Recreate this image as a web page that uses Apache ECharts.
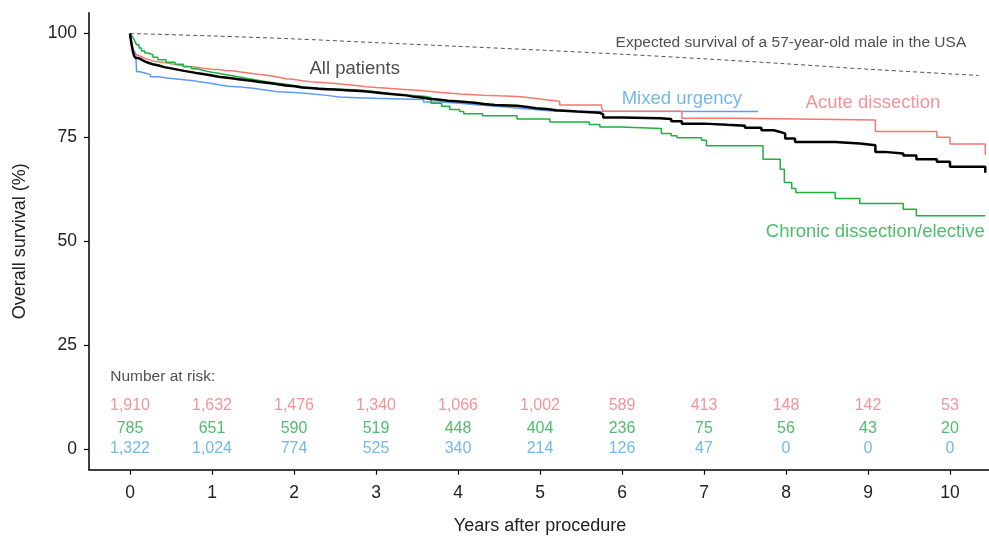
<!DOCTYPE html>
<html>
<head>
<meta charset="utf-8">
<script src="https://cdn.jsdelivr.net/npm/echarts@6/dist/echarts.min.js"></script>
<style>
html,body{margin:0;padding:0;background:#fff;overflow:hidden;}
#chart{width:989px;height:536px;}
</style>
</head>
<body>
<div id="chart"></div>
<script>
// ---- data ----
var yearTicks = [0,1,2,3,4,5,6,7,8,9,10];
var survivalTicks = [0,25,50,75,100];

var allPatients = [[0,100],[0.01,98.5],[0.02,97.3],[0.03,96.2],[0.04,95.3],[0.05,94.6],[0.07,94.1],[0.1,93.7],[0.14,93.3],[0.18,92.9],[0.23,92.6],[0.28,92.3],[0.35,91.9],[0.42,91.6],[0.5,91.3],[0.58,91.0],[0.66,90.7],[0.75,90.4],[0.83,90.2],[0.91,89.9],[1.0,89.6],[1.08,89.4],[1.16,89.2],[1.24,89.0],[1.32,88.8],[1.4,88.6],[1.48,88.4],[1.56,88.2],[1.64,88.0],[1.72,87.8],[1.8,87.5],[1.9,87.3],[2.01,87.0],[2.1,86.85],[2.2,86.7],[2.3,86.6],[2.4,86.5],[2.5,86.4],[2.6,86.3],[2.68,86.2],[2.76,86.1],[2.85,85.9],[2.95,85.7],[3.05,85.5],[3.15,85.3],[3.25,85.1],[3.37,84.8],[3.45,84.6],[3.55,84.3],[3.65,84.1],[3.75,83.8],[3.88,83.6],[4.02,83.3],[4.2,83.0],[4.32,82.8],[4.45,82.6],[4.72,82.3],[4.85,82.0],[4.95,81.8],[5.08,81.5],[5.2,81.2],[5.45,80.9],[5.73,80.5],[5.77,79.8],[6.0,79.6],[6.46,79.4],[6.6,78.9],[6.73,78.3],[7.0,78.0],[7.28,77.8],[7.5,77.3],[7.7,76.7],[7.85,76.3],[7.93,75.9],[7.99,74.7],[8.11,73.9],[8.6,73.5],[8.9,73.1],[9.09,71.5],[9.2,71.1],[9.43,70.6],[9.59,69.7],[9.84,69.1],[10.0,67.9],[10.43,66.5]];
var acuteDissection = [[0,100],[0.01,98.8],[0.02,97.7],[0.03,96.7],[0.04,95.9],[0.05,95.3],[0.07,94.8],[0.1,94.4],[0.14,94.0],[0.18,93.7],[0.23,93.4],[0.28,93.2],[0.34,93.0],[0.42,92.7],[0.5,92.4],[0.58,92.2],[0.66,92.0],[0.75,91.8],[0.83,91.6],[0.91,91.4],[1.0,91.3],[1.08,91.1],[1.16,91.0],[1.25,90.7],[1.35,90.5],[1.45,90.2],[1.56,90.0],[1.65,89.7],[1.75,89.4],[1.83,89.1],[1.9,88.9],[2.01,88.6],[2.1,88.4],[2.2,88.2],[2.35,87.95],[2.5,87.7],[2.63,87.45],[2.76,87.2],[2.88,87.0],[3.0,86.8],[3.15,86.6],[3.3,86.4],[3.45,86.2],[3.58,86.0],[3.7,85.8],[3.8,85.6],[3.92,85.45],[4.02,85.3],[4.15,85.15],[4.3,85.0],[4.5,84.85],[4.72,84.7],[4.8,84.45],[4.9,84.2],[5.0,83.95],[5.12,83.7],[5.24,82.8],[5.75,82.3],[5.77,81.3],[6.73,79.6],[7.44,79.2],[9.09,76.4],[9.84,75.0],[10.0,73.4],[10.43,70.8]];
var mixedUrgency = [[0,100],[0.01,98.7],[0.02,97.6],[0.03,96.7],[0.05,95.8],[0.07,95.2],[0.08,90.8],[0.12,90.5],[0.18,90.1],[0.25,89.6],[0.35,89.3],[0.45,89.0],[0.6,88.7],[0.75,88.4],[0.85,88.0],[0.98,87.6],[1.1,87.3],[1.2,87.1],[1.35,86.8],[1.5,86.4],[1.65,86.0],[1.8,85.8],[2.01,85.5],[2.2,85.1],[2.4,84.7],[2.55,84.55],[2.76,84.4],[3.0,84.25],[3.3,84.1],[3.58,83.5],[3.8,83.2],[4.02,82.8],[4.25,82.4],[4.51,82.0],[4.75,81.6],[5.0,81.3],[5.2,81.2],[7.66,81.2]];
var chronicElective = [[0,100],[0.02,99.5],[0.04,98.9],[0.06,98.1],[0.08,97.3],[0.11,96.5],[0.14,95.8],[0.18,95.3],[0.22,94.9],[0.28,94.3],[0.34,93.7],[0.44,93.1],[0.55,92.6],[0.65,92.0],[0.75,91.5],[0.82,91.2],[0.88,90.9],[0.94,90.65],[1.0,90.4],[1.08,90.1],[1.16,89.8],[1.25,89.45],[1.35,89.1],[1.45,88.75],[1.56,88.4],[1.66,88.1],[1.77,87.8],[1.9,87.4],[2.01,87.0],[2.15,86.8],[2.3,86.6],[2.5,86.45],[2.76,86.2],[2.88,86.0],[3.0,85.8],[3.08,85.5],[3.17,85.2],[3.37,84.9],[3.58,84.6],[3.67,83.2],[3.8,82.5],[3.9,81.7],[4.02,81.2],[4.07,80.7],[4.3,80.2],[4.72,79.4],[5.12,78.7],[5.6,78.1],[5.73,77.5],[5.98,77.1],[6.48,75.9],[6.6,75.4],[6.67,74.9],[6.97,74.3],[7.03,73.0],[7.72,69.7],[7.93,67.3],[7.98,64.1],[8.07,62.7],[8.12,61.7],[8.6,60.3],[8.9,59.1],[9.43,57.7],[9.59,56.1],[10.43,56.1]];
var expectedSurvival = [[0,100],[1,99.4],[2,98.7],[3,97.8],[4,96.9],[5,96.0],[6,95.0],[7,93.9],[8,92.7],[9,91.4],[10.35,89.9]];

var riskYears = [0,1,2,3,4,5,6,7,8,9,10];
var riskAcute = [1910,1632,1476,1340,1066,1002,589,413,148,142,53];
var riskChronic = [785,651,590,519,448,404,236,75,56,43,20];
var riskMixed = [1322,1024,774,525,340,214,126,47,0,0,0];

// ---- styling ----
var FONT = '"Liberation Sans", Arial, Helvetica, sans-serif';
var RED = '#F8766D', GREEN = '#1DB13F', BLUE = '#5E9BF8';
var RED_T = '#F2787E', GREEN_T = '#22AC48', BLUE_T = '#4DA8E4';

function fmt(n){ return n.toString().replace(/\B(?=(\d{3})+(?!\d))/g, ','); }

function riskSeries(vals, rowY, color){
  return {
    type:'scatter', symbol:'circle', symbolSize:1, silent:true,
    itemStyle:{color:'transparent'},
    data: riskYears.map(function(t,i){ return [t,rowY,vals[i]]; }),
    label:{show:true, position:'inside', formatter:function(p){return fmt(p.value[2]);},
      color:color, fontSize:16, fontFamily:FONT}
  };
}

function textItem(t, v, text, color, size){
  return {value:[t,v], label:{show:true, position:'inside', formatter:text, color:color, fontSize:size, fontFamily:FONT}};
}

var chart = echarts.init(document.getElementById('chart'), null, {renderer:'canvas'});
chart.setOption({
  animation:false,
  backgroundColor:'#fff',
  grid:{left:89, top:12.7, width:902, height:457, containLabel:false, outerBoundsMode:'none'},
  xAxis:{
    type:'value', min:-0.5, max:10.5,
    name:'Years after procedure', nameLocation:'middle', nameGap:47,
    nameTextStyle:{fontSize:18, color:'#222', fontFamily:FONT},
    axisLine:{show:true, onZero:false, lineStyle:{color:'#000', width:1.5}},
    axisTick:{show:true, length:5, lineStyle:{color:'#000', width:1.2}, customValues:yearTicks},
    axisLabel:{customValues:yearTicks, fontSize:17.5, color:'#222', margin:14, fontFamily:FONT},
    splitLine:{show:false}
  },
  yAxis:{
    type:'value', min:-5, max:105,
    name:'Overall survival (%)', nameLocation:'middle', nameGap:60, nameRotate:90,
    nameTextStyle:{fontSize:18, color:'#222', fontFamily:FONT},
    axisLine:{show:true, onZero:false, lineStyle:{color:'#000', width:1.5}},
    axisTick:{show:true, length:5, lineStyle:{color:'#000', width:1.2}, customValues:survivalTicks},
    axisLabel:{customValues:survivalTicks, fontSize:17.5, color:'#222', margin:12, fontFamily:FONT},
    splitLine:{show:false}
  },
  series:[
    {type:'line', data:expectedSurvival, showSymbol:false, smooth:0.3, silent:true,
      lineStyle:{color:'#555', width:1, type:[4,3]}},
    {type:'line', data:mixedUrgency, step:'end', showSymbol:false, silent:true,
      lineStyle:{color:BLUE, width:1.5}},
    {type:'line', data:acuteDissection, step:'end', showSymbol:false, silent:true,
      lineStyle:{color:RED, width:1.5}},
    {type:'line', data:chronicElective, step:'end', showSymbol:false, silent:true,
      lineStyle:{color:GREEN, width:1.5}},
    {type:'line', data:allPatients, step:'end', showSymbol:false, silent:true,
      lineStyle:{color:'#000', width:2.5}},
    riskSeries(riskAcute, 10.4, RED_T),
    riskSeries(riskChronic, 4.8, GREEN_T),
    riskSeries(riskMixed, 0, BLUE_T),
    {type:'scatter', symbol:'circle', symbolSize:1, silent:true, itemStyle:{color:'transparent'},
      data:[
        textItem(2.74, 91.4, 'All patients', '#222', 18.5),
        textItem(8.06, 97.7, 'Expected survival of a 57-year-old male in the USA', '#222', 15.5),
        textItem(6.73, 84.2, 'Mixed urgency', BLUE_T, 18.5),
        textItem(9.06, 83.2, 'Acute dissection', RED_T, 18.5),
        textItem(9.09, 52.2, 'Chronic dissection/elective', GREEN_T, 18.5),
        textItem(0.4, 17.3, 'Number at risk:', '#222', 15.5)
      ]}
  ]
});
</script>
</body>
</html>
